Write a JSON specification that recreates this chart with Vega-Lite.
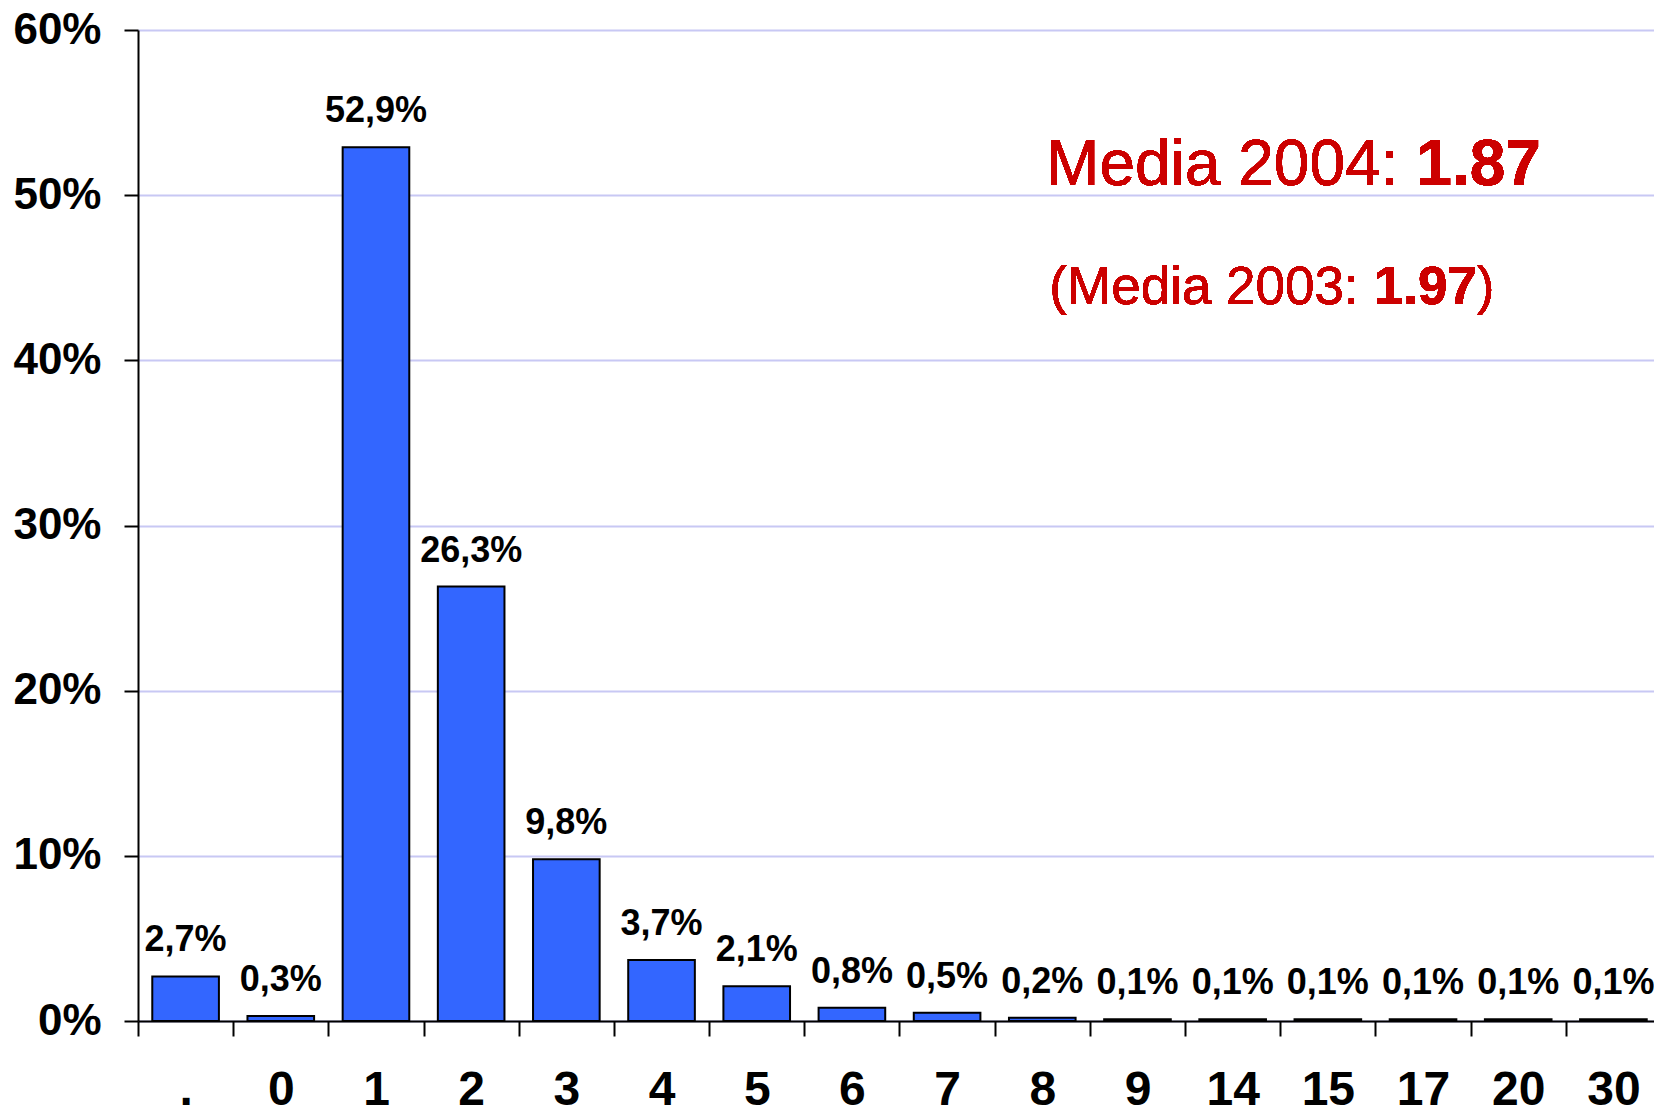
{
  "$schema": "https://vega.github.io/schema/vega-lite/v6.json",
  "width": 1523,
  "height": 991,
  "autosize": "none",
  "padding": {"left": 138, "top": 30, "right": 0, "bottom": 90},
  "background": "white",
  "config": {
    "view": {"stroke": null},
    "font": "Liberation Sans",
    "locale": {"number": {"decimal": ",", "thousands": ".", "grouping": [3], "currency": ["", " €"]}}
  },
  "data": {
    "values": [
      {"cat": ".", "pct": 0.027},
      {"cat": "0", "pct": 0.003},
      {"cat": "1", "pct": 0.529},
      {"cat": "2", "pct": 0.263},
      {"cat": "3", "pct": 0.098},
      {"cat": "4", "pct": 0.037},
      {"cat": "5", "pct": 0.021},
      {"cat": "6", "pct": 0.008},
      {"cat": "7", "pct": 0.005},
      {"cat": "8", "pct": 0.002},
      {"cat": "9", "pct": 0.001},
      {"cat": "14", "pct": 0.001},
      {"cat": "15", "pct": 0.001},
      {"cat": "17", "pct": 0.001},
      {"cat": "20", "pct": 0.001},
      {"cat": "30", "pct": 0.001}
    ]
  },
  "layer": [
    {
      "mark": {"type": "bar", "fill": "#3366FF", "stroke": "black", "strokeWidth": 2},
      "encoding": {
        "x": {
          "field": "cat", "type": "nominal", "sort": null,
          "scale": {"paddingInner": 0.3, "paddingOuter": 0.15},
          "axis": {
            "title": null, "labelAngle": 0, "labelFontSize": 48, "labelFontWeight": "bold",
            "labelColor": "black", "labelPadding": 30, "bandPosition": 0, "tickOffset": -14.3,
            "labelOffset": 14.3, "tickSize": 15,
            "tickWidth": 2, "tickColor": "black", "domainColor": "black", "domainWidth": 2,
            "grid": false, "labelFont": "Liberation Sans"
          }
        },
        "y": {
          "field": "pct", "type": "quantitative",
          "scale": {"domain": [0, 0.6], "nice": false},
          "axis": {
            "title": null, "format": ".0%", "values": [0, 0.1, 0.2, 0.3, 0.4, 0.5, 0.6],
            "labelFontSize": 44, "labelFontWeight": "bold", "labelColor": "black",
            "labelPadding": 23, "tickSize": 14, "tickWidth": 2, "tickColor": "black",
            "domainColor": "black", "domainWidth": 2, "gridColor": "#c8c8f4", "gridWidth": 2,
            "labelFont": "Liberation Sans"
          }
        }
      }
    },
    {
      "mark": {"type": "text", "fontSize": 36, "fontWeight": "bold", "baseline": "alphabetic", "dy": -25, "color": "black"},
      "encoding": {
        "x": {"field": "cat", "type": "nominal", "sort": null},
        "y": {"field": "pct", "type": "quantitative"},
        "text": {"field": "pct", "type": "quantitative", "format": ".1%"}
      }
    },
    {
      "mark": {"type": "text", "fontSize": 64, "align": "right", "baseline": "alphabetic", "color": "#CC0000", "dx": -18},
      "encoding": {
        "x": {"datum": "17", "type": "nominal", "bandPosition": 0.4},
        "y": {"datum": 0.506, "type": "quantitative"},
        "text": {"value": "Media 2004:"}
      }
    },
    {
      "mark": {"type": "text", "fontSize": 64, "fontWeight": "bold", "align": "left", "baseline": "alphabetic", "color": "#CC0000"},
      "encoding": {
        "x": {"datum": "17", "type": "nominal", "bandPosition": 0.4},
        "y": {"datum": 0.506, "type": "quantitative"},
        "text": {"value": "1.87"}
      }
    },
    {
      "mark": {"type": "text", "fontSize": 53, "align": "right", "baseline": "alphabetic", "color": "#CC0000", "dx": -31},
      "encoding": {
        "x": {"datum": "17", "type": "nominal", "bandPosition": 0},
        "y": {"datum": 0.434, "type": "quantitative"},
        "text": {"value": "(Media 2003:"}
      }
    },
    {
      "mark": {"type": "text", "fontSize": 53, "fontWeight": "bold", "align": "left", "baseline": "alphabetic", "color": "#CC0000", "dx": -16},
      "encoding": {
        "x": {"datum": "17", "type": "nominal", "bandPosition": 0},
        "y": {"datum": 0.434, "type": "quantitative"},
        "text": {"value": "1.97"}
      }
    },
    {
      "mark": {"type": "text", "fontSize": 53, "align": "left", "baseline": "alphabetic", "color": "#CC0000", "dx": 87},
      "encoding": {
        "x": {"datum": "17", "type": "nominal", "bandPosition": 0},
        "y": {"datum": 0.434, "type": "quantitative"},
        "text": {"value": ")"}
      }
    }
  ]
}
